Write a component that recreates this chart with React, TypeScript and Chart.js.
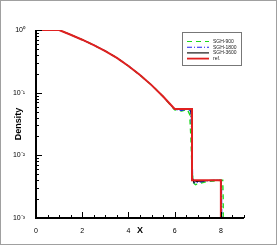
import React, { useEffect, useRef } from "react";
import { Chart, registerables } from "chart.js";

Chart.register(...registerables);

const refX = [0, 1, 1.5, 2, 2.5, 3, 3.5, 4, 4.5, 5, 5.5, 6, 6.75, 6.75, 8, 8];
const refY = [1, 1, 0.841, 0.70, 0.575, 0.462, 0.359, 0.266, 0.191, 0.132, 0.087, 0.055, 0.055, 0.0040, 0.0040, 0.001];

const sgh900X = [0, 1, 1.5, 2, 2.5, 3, 3.5, 4, 4.5, 5, 5.5, 6, 6.3, 6.55, 6.65, 6.7, 6.75, 6.8, 6.9, 7.1, 7.4, 7.7, 8.0, 8.08, 8.1, 8.1];
const sgh900Y = [1, 1, 0.841, 0.70, 0.575, 0.462, 0.359, 0.266, 0.191, 0.132, 0.087, 0.053, 0.051, 0.054, 0.045, 0.02, 0.006, 0.0037, 0.0034, 0.0036, 0.0038, 0.0039, 0.0040, 0.0040, 0.002, 0.001];

const sgh1800X = [0, 1, 1.5, 2, 2.5, 3, 3.5, 4, 4.5, 5, 5.5, 6, 6.3, 6.6, 6.7, 6.74, 6.78, 6.85, 7.0, 7.4, 7.8, 8.0, 8.03, 8.04];
const sgh1800Y = [1, 1, 0.841, 0.70, 0.575, 0.462, 0.359, 0.266, 0.191, 0.132, 0.087, 0.054, 0.052, 0.055, 0.05, 0.02, 0.0045, 0.0036, 0.0037, 0.0039, 0.004, 0.004, 0.003, 0.001];

const sgh3600X = [0, 1, 1.5, 2, 2.5, 3, 3.5, 4, 4.5, 5, 5.5, 6, 6.4, 6.7, 6.74, 6.77, 6.82, 6.9, 7.2, 7.6, 7.98, 8.0, 8.01];
const sgh3600Y = [1, 1, 0.841, 0.70, 0.575, 0.462, 0.359, 0.266, 0.191, 0.132, 0.087, 0.054, 0.054, 0.055, 0.03, 0.0045, 0.0037, 0.0038, 0.0039, 0.004, 0.004, 0.003, 0.001];

const seriesLabels = ["SGH-900", "SGH-1800", "SGH-3600", "ref."];
const xTickLabels = ["0", "2", "4", "6", "8"];
const yDecades = [-3, -2, -1, 0];
const yTickLabels: Record<string, string> = {
  "1": "10\u2070",
  "0.1": "10\u207B\u00B9",
  "0.01": "10\u207B\u00B2",
  "0.001": "10\u207B\u00B3",
};

const pts = (xs: number[], ys: number[]) => xs.map((x, i) => ({ x, y: ys[i] }));

const decorPlugin = {
  id: "decor",
  beforeDraw(chart: any) {
    const ctx = chart.ctx;
    ctx.save();
    ctx.fillStyle = "#ffffff";
    ctx.fillRect(0, 0, chart.width, chart.height);
    ctx.strokeStyle = "#a0a0a0";
    ctx.lineWidth = 1;
    ctx.strokeRect(0.5, 0.5, 276, 244);
    ctx.restore();
  },
  afterDraw(chart: any) {
    const ctx = chart.ctx;
    const xs = chart.scales.x;
    const ys = chart.scales.y;
    const area = chart.chartArea;
    ctx.save();
    ctx.setLineDash([]);
    ctx.fillStyle = "#000";
    // x ticks (inward)
    xs.ticks.forEach((t: any) => {
      const px = Math.round(xs.getPixelForValue(t.value));
      const major = Math.abs(t.value % 2) < 1e-9;
      const len = major ? 6 : 3;
      ctx.fillRect(px, area.bottom - len, 1, len);
    });
    // y ticks (inward), all mantissas per decade
    yDecades.forEach((d) => {
      const top = d === 0 ? 1 : 9;
      for (let m = 1; m <= top; m++) {
        const v = m * Math.pow(10, d);
        const py = Math.round(ys.getPixelForValue(v));
        const len = m === 1 ? 6 : 3;
        ctx.fillRect(area.left, py, len, 1);
      }
    });
    // axis lines
    const l = Math.round(area.left), b = Math.round(area.bottom), tp = Math.round(area.top);
    ctx.fillRect(l - 1, tp, 2, b - tp + 1);
    ctx.fillRect(l - 1, b - 1, Math.round(area.right) - l + 1, 2);

    // legend
    const bx = 182, by = 32, bw = 59, bh = 33;
    ctx.fillStyle = "#fff";
    ctx.fillRect(bx, by, bw, bh);
    ctx.strokeStyle = "#777";
    ctx.lineWidth = 1;
    ctx.strokeRect(bx + 0.5, by + 0.5, bw, bh);
    chart.data.datasets.forEach((ds: any, i: number) => {
      const y = 41.5 + i * 5.7;
      ctx.strokeStyle = ds.borderColor;
      ctx.lineWidth = i === 3 ? 1.8 : 1.1;
      ctx.setLineDash(ds.borderDash || []);
      ctx.beginPath();
      ctx.moveTo(187, y);
      ctx.lineTo(209, y);
      ctx.stroke();
      ctx.setLineDash([]);
      ctx.fillStyle = "#222";
      ctx.font = "5px 'Liberation Sans', Arial, sans-serif";
      ctx.textBaseline = "middle";
      ctx.textAlign = "left";
      ctx.fillText(ds.label, 213, y);
    });
    ctx.restore();
  },
};

export default function App() {
  const ref = useRef<HTMLCanvasElement | null>(null);
  useEffect(() => {
    const canvas = ref.current!;
    const chart = new Chart(canvas, {
      type: "line",
      data: {
        datasets: [
          {
            label: seriesLabels[0],
            data: pts(sgh900X, sgh900Y),
            borderColor: "#1fd81f",
            borderWidth: 1.4,
            borderDash: [5, 4],
            pointRadius: 0,
            order: 3,
          },
          {
            label: seriesLabels[1],
            data: pts(sgh1800X, sgh1800Y),
            borderColor: "#2020f0",
            borderWidth: 1.1,
            borderDash: [5, 2, 1, 2],
            pointRadius: 0,
            order: 2,
          },
          {
            label: seriesLabels[2],
            data: pts(sgh3600X, sgh3600Y),
            borderColor: "#000000",
            borderWidth: 1,
            pointRadius: 0,
            order: 1,
          },
          {
            label: seriesLabels[3],
            data: pts(refX, refY),
            borderColor: "#e02020",
            borderWidth: 2,
            pointRadius: 0,
            order: 0,
          },
        ],
      },
      options: {
        animation: false,
        responsive: false,
        maintainAspectRatio: false,
        layout: { padding: { left: 0, top: 30, right: 33, bottom: 0 } },
        plugins: { legend: { display: false }, tooltip: { enabled: false } },
        scales: {
          x: {
            type: "linear",
            min: 0,
            max: 9,
            grid: { display: false },
            border: { display: false },
            ticks: {
              stepSize: 0.5,
              autoSkip: false,
              maxRotation: 0,
              padding: 1,
              color: "#000",
              font: { size: 7, family: "'Liberation Sans', Arial, sans-serif" },
              callback: (v: any) => {
                const n = Number(v);
                const idx = xTickLabels.indexOf(String(n));
                return idx >= 0 ? xTickLabels[idx] : "";
              },
            },
            title: {
              display: true,
              text: "X",
              color: "#000",
              padding: { top: 0, bottom: 10 },
              font: { size: 9, weight: "bold", family: "'Liberation Sans', Arial, sans-serif" },
            },
            afterFit: (s: any) => {
              s.height = 28;
            },
          },
          y: {
            type: "logarithmic",
            min: 0.001,
            max: 1,
            grid: { display: false },
            border: { display: false },
            afterBuildTicks: (s: any) => {
              s.ticks = yDecades.map((d) => ({ value: Math.pow(10, d) }));
            },
            ticks: {
              autoSkip: false,
              padding: 3,
              color: "#000",
              font: { size: 7, family: "'Liberation Sans', Arial, sans-serif" },
              callback: (v: any) => {
                const key = String(Number(v));
                return yTickLabels[key] ?? "";
              },
            },
            title: {
              display: true,
              text: "Density",
              color: "#000",
              padding: { top: 13, bottom: 0 },
              font: { size: 9, weight: "bold", family: "'Liberation Sans', Arial, sans-serif" },
            },
            afterFit: (s: any) => {
              s.width = 36;
            },
          },
        },
      },
      plugins: [decorPlugin],
    } as any);
    return () => chart.destroy();
  }, []);
  return (
    <div style={{ position: "fixed", left: 0, top: 0, width: 277, height: 246 }}>
      <canvas ref={ref} width={277} height={246} style={{ width: 277, height: 246, display: "block" }} />
    </div>
  );
}
